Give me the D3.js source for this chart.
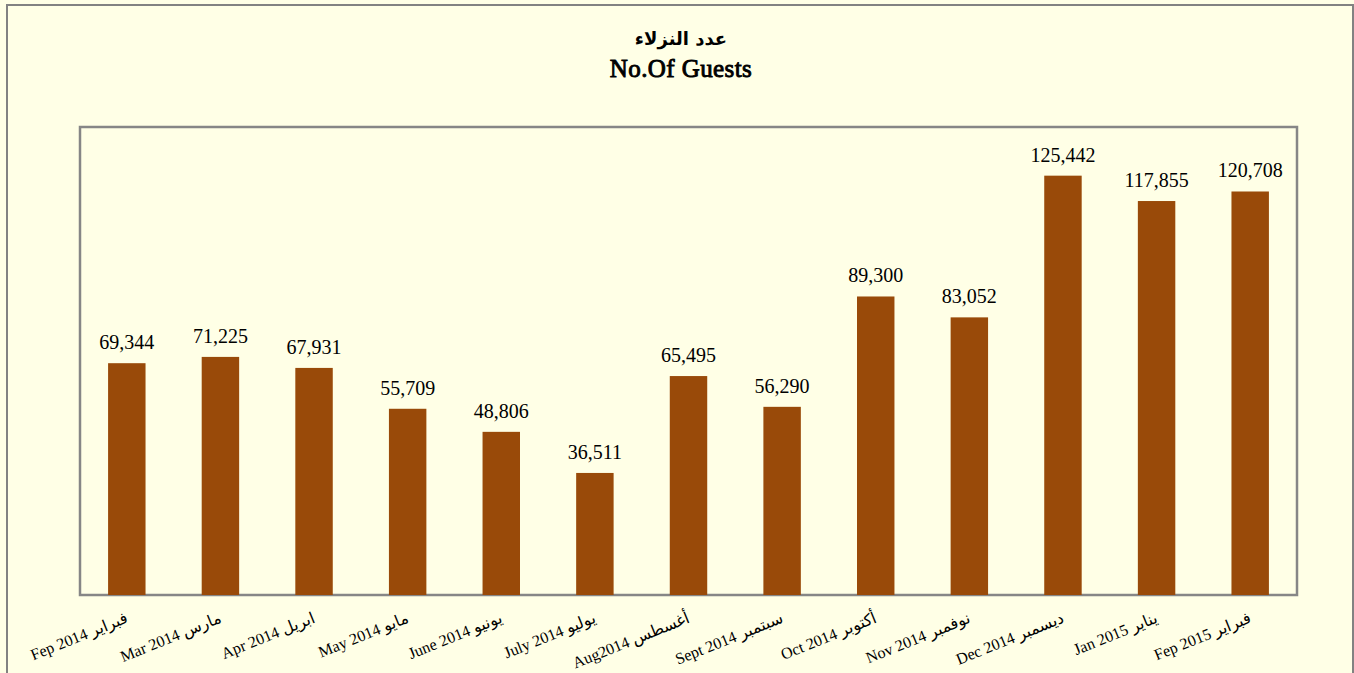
<!DOCTYPE html>
<html>
<head>
<meta charset="utf-8">
<script src="https://d3js.org/d3.v7.min.js"></script>
<style>
    body { margin: 0; background: #ffffe6; }
    .val { font-family: "Liberation Serif", "Times New Roman", serif; font-size: 20px; fill: #000; }
    .xlab text { font-family: "Liberation Serif", "DejaVu Sans", serif; font-size: 16px; fill: #000; }
    /* bold serif face is not matched, so thicken the regular one */
    .title-en { font-family: "Liberation Serif", serif; font-size: 25px; letter-spacing: 0.4px; fill: #000; stroke: #000; stroke-width: 0.9px; }
    .title-ar { font-family: "DejaVu Sans", sans-serif; font-weight: 700; font-size: 18px; }
</style>
</head>
<body>
<div id="chart"></div>
<script>
    // data
    const months = ["Fep 2014 فبراير", "Mar 2014 مارس", "Apr 2014 ابريل", "May 2014 مايو",
        "June 2014 يونيو", "July 2014 يوليو", "Aug2014 أغسطس", "Sept 2014 سبتمبر",
        "Oct 2014 أكتوبر", "Nov 2014 نوفمبر", "Dec 2014 ديسمبر", "Jan 2015 يناير", "Fep 2015 فبراير"];
    const guests = [69344, 71225, 67931, 55709, 48806, 36511, 65495, 56290, 89300, 83052, 125442, 117855, 120708];
    const titleAr = "عدد النزلاء";
    const titleEn = "No.Of Guests";

    const W = 1354, H = 673;
    const plot = { left: 80, right: 1297, top: 127, bottom: 595 };

    const svg = d3.select("#chart").append("svg")
        .attr("width", W).attr("height", H)
        .style("display", "block");

    // outer chart box (bottom edge runs off the page)
    svg.append("rect")
        .attr("x", 7).attr("y", 5)
        .attr("width", 1346).attr("height", 700)
        .attr("fill", "#ffffe6")
        .attr("stroke", "#828282").attr("stroke-width", 2);

    // plot area
    svg.append("rect")
        .attr("x", plot.left).attr("y", plot.top)
        .attr("width", plot.right - plot.left).attr("height", plot.bottom - plot.top)
        .attr("fill", "#ffffe6")
        .attr("stroke", "#868686").attr("stroke-width", 2.5);

    // titles
    svg.append("text")
        .attr("class", "title-ar")
        .attr("x", 681).attr("y", 45)
        .attr("text-anchor", "middle")
        .text(titleAr);
    svg.append("text")
        .attr("class", "title-en")
        .attr("x", 681).attr("y", 77)
        .attr("text-anchor", "middle")
        .text(titleEn);

    const x = d3.scaleBand()
        .domain(months)
        .range([plot.left, plot.right])
        .paddingInner(0.6)
        .paddingOuter(0.3);

    const y = d3.scaleLinear()
        .domain([0, 140000])
        .range([plot.bottom, plot.top]);

    const data = months.map((m, i) => ({ month: m, value: guests[i] }));

    // bars
    svg.selectAll(".bar")
        .data(data)
        .join("rect")
        .attr("class", "bar")
        .attr("x", d => x(d.month))
        .attr("y", d => y(d.value))
        .attr("width", x.bandwidth())
        .attr("height", d => y(0) - y(d.value))
        .attr("fill", "#994a09");

    // value labels
    svg.selectAll(".val")
        .data(data)
        .join("text")
        .attr("class", "val")
        .attr("x", d => x(d.month) + x.bandwidth() / 2)
        .attr("y", d => y(d.value) - 14)
        .attr("text-anchor", "middle")
        .text(d => d3.format(",")(d.value));

    // category axis, rotated labels
    const xAxis = svg.append("g")
        .attr("class", "xlab")
        .attr("transform", `translate(0,${plot.bottom})`)
        .call(d3.axisBottom(x).tickSize(0));
    xAxis.select(".domain").remove();
    xAxis.selectAll("text")
        .attr("x", 0).attr("y", 0).attr("dy", 0)
        .attr("text-anchor", "end")
        .attr("transform", "translate(2,27) rotate(-22)");
</script>
</body>
</html>
